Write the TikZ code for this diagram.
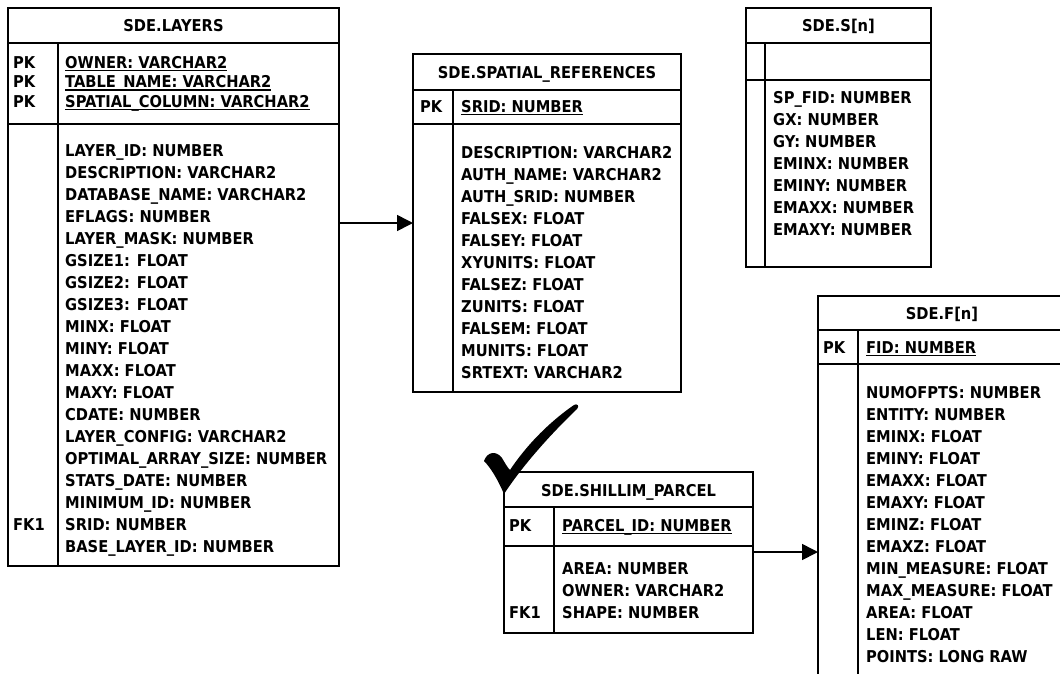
\documentclass[tikz,border=0pt]{standalone}
\usepackage{fontspec}
\usetikzlibrary{arrows.meta}
\newfontfamily\tabfont{DejaVu Sans}[FakeStretch=0.9]
\newcommand\tabtext{\fontsize{16.3}{20}\selectfont\tabfont\bfseries}
% primary key columns are underlined
\newcommand\keyfield[1]{\setbox0\hbox{#1}\rlap{\rule[-3pt]{\wd0}{1.3pt}}\box0}
\tikzset{
  frame/.style={draw=black, line width=1.8pt, inner sep=0pt, outer sep=0pt, anchor=north west},
  rule/.style={line width=1.8pt},
  fld/.style={anchor=base west, inner sep=0pt, font=\tabtext},
  ttl/.style={anchor=base, inner sep=0pt, font=\tabtext},
  conn/.style={line width=1.6pt, -{Triangle[length=16pt,width=16pt]}},
}
\begin{document}
\begin{tikzpicture}[x=1pt, y=-1pt]
\useasboundingbox (0,0) rectangle (1060,673);
\begin{scope}
\clip (0,0) rectangle (1060,673);

% ---------- SDE.LAYERS ----------
\node[frame, minimum width=331pt, minimum height=558pt] (layers) at (8,8) {};
\draw[rule] (8,43) -- (339,43);
\draw[rule] (8,124) -- (339,124);
\draw[rule] (58,43) -- (58,566);
\node[ttl] (layers-t) at (173.5,31.5) {SDE.LAYERS};
\foreach \k/\t [count=\i from 0] in {PK/OWNER: VARCHAR2, PK/TABLE\_NAME: VARCHAR2, PK/SPATIAL\_COLUMN: VARCHAR2}{
  \node[fld] (layers-k\i) at (13,{68+19.5*\i}) {\k};
  \node[fld] (layers-p\i) at (65,{68+19.5*\i}) {\keyfield{\t}};
}
\foreach \t [count=\i from 0] in {LAYER\_ID: NUMBER, DESCRIPTION: VARCHAR2, DATABASE\_NAME: VARCHAR2,
  EFLAGS: NUMBER, LAYER\_MASK: NUMBER, GSIZE1: FLOAT, GSIZE2: FLOAT, GSIZE3: FLOAT,
  MINX: FLOAT, MINY: FLOAT, MAXX: FLOAT, MAXY: FLOAT, CDATE: NUMBER,
  LAYER\_CONFIG: VARCHAR2, OPTIMAL\_ARRAY\_SIZE: NUMBER, STATS\_DATE: NUMBER,
  MINIMUM\_ID: NUMBER, SRID: NUMBER, BASE\_LAYER\_ID: NUMBER}{
  \node[fld] (layers-b\i) at (65,{156+22.05*\i}) {\t};
}
\node[fld] (layers-fk) at (13,{156+22.05*17}) {FK1};

% ---------- SDE.SPATIAL_REFERENCES ----------
\node[frame, minimum width=268pt, minimum height=338pt] (spatial) at (413,54) {};
\draw[rule] (413,90) -- (681,90);
\draw[rule] (413,124) -- (681,124);
\draw[rule] (453,90) -- (453,392);
\node[ttl] (spatial-t) at (547,78) {SDE.SPATIAL\_REFERENCES};
\node[fld] (spatial-k) at (420,112) {PK};
\node[fld] (spatial-p) at (461,112) {\keyfield{SRID: NUMBER}};
\foreach \t [count=\i from 0] in {DESCRIPTION: VARCHAR2, AUTH\_NAME: VARCHAR2, AUTH\_SRID: NUMBER,
  FALSEX: FLOAT, FALSEY: FLOAT, XYUNITS: FLOAT, FALSEZ: FLOAT, ZUNITS: FLOAT,
  FALSEM: FLOAT, MUNITS: FLOAT, SRTEXT: VARCHAR2}{
  \node[fld] (spatial-b\i) at (461,{158+22*\i}) {\t};
}

% ---------- SDE.S[n] ----------
\node[frame, minimum width=185pt, minimum height=259pt] (srows) at (746,8) {};
\draw[rule] (746,43) -- (931,43);
\draw[rule] (746,80) -- (931,80);
\draw[rule] (765,43) -- (765,267);
\node[ttl] (srows-t) at (838.5,31.5) {SDE.S[n]};
\foreach \t [count=\i from 0] in {SP\_FID: NUMBER, GX: NUMBER, GY: NUMBER, EMINX: NUMBER,
  EMINY: NUMBER, EMAXX: NUMBER, EMAXY: NUMBER}{
  \node[fld] (srows-b\i) at (773,{103+22*\i}) {\t};
}

% ---------- SDE.SHILLIM_PARCEL ----------
\node[frame, minimum width=249pt, minimum height=161pt] (parcel) at (504,472) {};
\draw[rule] (504,507) -- (753,507);
\draw[rule] (504,546) -- (753,546);
\draw[rule] (554,507) -- (554,633);
\node[ttl] (parcel-t) at (628.5,496) {SDE.SHILLIM\_PARCEL};
\node[fld] (parcel-k) at (509,531) {PK};
\node[fld] (parcel-p) at (562,531) {\keyfield{PARCEL\_ID: NUMBER}};
\foreach \t [count=\i from 0] in {AREA: NUMBER, OWNER: VARCHAR2, SHAPE: NUMBER}{
  \node[fld] (parcel-b\i) at (562,{574+22*\i}) {\t};
}
\node[fld] (parcel-fk) at (509,{574+44}) {FK1};

% ---------- SDE.F[n] ----------
\node[frame, minimum width=260pt, minimum height=420pt] (fcols) at (818,296) {};
\draw[rule] (818,330) -- (1078,330);
\draw[rule] (818,364) -- (1078,364);
\draw[rule] (858,330) -- (858,716);
\node[ttl] (fcols-t) at (942,319) {SDE.F[n]};
\node[fld] (fcols-k) at (823,353) {PK};
\node[fld] (fcols-p) at (866,353) {\keyfield{FID: NUMBER}};
\foreach \t [count=\i from 0] in {NUMOFPTS: NUMBER, ENTITY: NUMBER, EMINX: FLOAT, EMINY: FLOAT,
  EMAXX: FLOAT, EMAXY: FLOAT, EMINZ: FLOAT, EMAXZ: FLOAT, MIN\_MEASURE: FLOAT,
  MAX\_MEASURE: FLOAT, AREA: FLOAT, LEN: FLOAT, POINTS: LONG RAW}{
  \node[fld] (fcols-b\i) at (866,{398+22*\i}) {\t};
}

% ---------- relationships ----------
\draw[conn] (layers.east |- 0,223) -- (spatial.west |- 0,223);
\draw[conn] (parcel.east |- 0,552) -- (fcols.west |- 0,552);

% ---------- check mark ----------
\fill[black] (484,461) .. controls (487,452) and (496,450) .. (502,458)
  .. controls (505,463) and (507,467) .. (510,470)
  .. controls (530,440) and (555,418) .. (574,405)
  .. controls (577,403) and (580,406) .. (577,409)
  .. controls (555,430) and (525,462) .. (504,494)
  .. controls (498,480) and (491,468) .. (484,461) -- cycle;
\end{scope}
\end{tikzpicture}
\end{document}
